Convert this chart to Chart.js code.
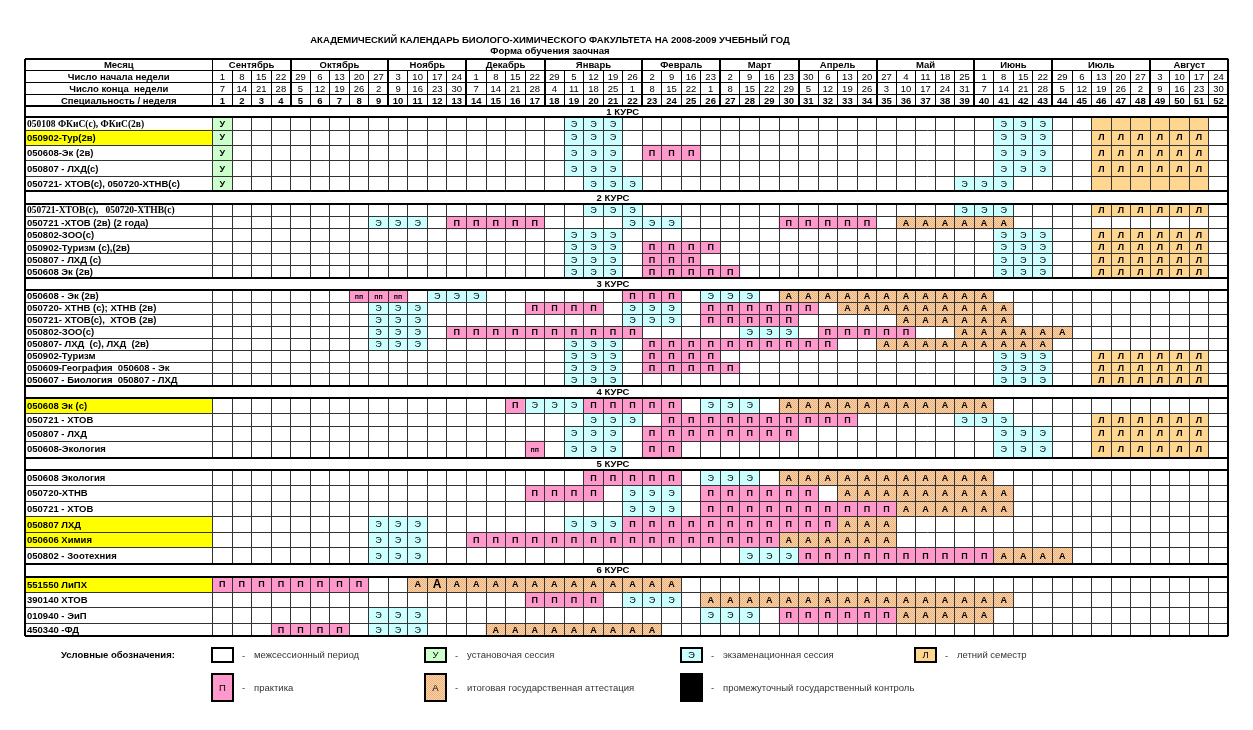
<!DOCTYPE html>
<html lang="ru">
<head>
    <meta charset="UTF-8">
    <title>Академический календарь 2008-2009</title>
    <script src="https://cdn.jsdelivr.net/npm/chart.js"></script>
    <style>
        body { margin: 0; background: #fff; }
    </style>
</head>
<body>
    <canvas id="calendar" width="1253" height="730"></canvas>

    <script>
        const titleText = 'АКАДЕМИЧЕСКИЙ КАЛЕНДАРЬ БИОЛОГО-ХИМИЧЕСКОГО ФАКУЛЬТЕТА НА 2008-2009 УЧЕБНЫЙ ГОД';
        const subtitleText = 'Форма обучения заочная';

        // шапка таблицы
        const headerLabels = ['Месяц', 'Число начала недели', 'Число конца  недели', 'Специальность / неделя'];
        const months = ['Сентябрь', 'Октябрь', 'Ноябрь', 'Декабрь', 'Январь', 'Февраль', 'Март', 'Апрель', 'Май', 'Июнь', 'Июль', 'Август'];
        const monthWeeks = [4, 5, 4, 4, 5, 4, 4, 4, 5, 4, 5, 4];
        const weekStart = [1, 8, 15, 22, 29, 6, 13, 20, 27, 3, 10, 17, 24, 1, 8, 15, 22, 29, 5, 12, 19, 26, 2, 9, 16, 23, 2, 9, 16, 23, 30, 6, 13, 20, 27, 4, 11, 18, 25, 1, 8, 15, 22, 29, 6, 13, 20, 27, 3, 10, 17, 24];
        const weekEnd = [7, 14, 21, 28, 5, 12, 19, 26, 2, 9, 16, 23, 30, 7, 14, 21, 28, 4, 11, 18, 25, 1, 8, 15, 22, 1, 8, 15, 22, 29, 5, 12, 19, 26, 3, 10, 17, 24, 31, 7, 14, 21, 28, 5, 12, 19, 26, 2, 9, 16, 23, 30];
        const weekNumbers = Array.from({ length: 52 }, (_, i) => i + 1);

        const courses = ['1 КУРС', '2 КУРС', '3 КУРС', '4 КУРС', '5 КУРС', '6 КУРС'];

        // код:недели  (У - установочная, Э - экзамены, П - практика, пп, А - аттестация, Л - летний семестр, л - без буквы)
        const course1Labels = ['050108 ФКиС(с), ФКиС(2в)', '050902-Тур(2в)', '050608-Эк (2в)', '050807 - ЛХД(с)', '050721- ХТОВ(с), 050720-ХТНВ(с)'];
        const course1Weeks = [
            'У:1 Э:19-21 Э:41-43 л:46-51',
            'У:1 Э:19-21 Э:41-43 Л:46-51',
            'У:1 Э:19-21 П:23-25 Э:41-43 Л:46-51',
            'У:1 Э:19-21 Э:41-43 Л:46-51',
            'У:1 Э:20-22 Э:39-41 л:46-51'
        ];
        const course2Labels = ['050721-ХТОВ(с),   050720-ХТНВ(с)', '050721 -ХТОВ (2в) (2 года)', '050802-ЗОО(с)', '050902-Туризм (с),(2в)', '050807 - ЛХД (с)', '050608 Эк (2в)'];
        const course2Weeks = [
            'Э:20-22 Э:39-41 Л:46-51',
            'Э:9-11 П:13-17 Э:22-24 П:30-34 А:36-41',
            'Э:19-21 Э:41-43 Л:46-51',
            'Э:19-21 П:23-26 Э:41-43 Л:46-51',
            'Э:19-21 П:23-25 Э:41-43 Л:46-51',
            'Э:19-21 П:23-27 Э:41-43 Л:46-51'
        ];
        const course3Labels = ['050608 - Эк (2в)', '050720- ХТНВ (с); ХТНВ (2в)', '050721- ХТОВ(с),  ХТОВ (2в)', '050802-ЗОО(с)', '050807- ЛХД  (с), ЛХД  (2в)', '050902-Туризм', '050609-География  050608 - Эк', '050607 - Биология  050807 - ЛХД'];
        const course3Weeks = [
            'пп:8-10 Э:12-14 П:22-24 Э:26-28 А:30-40',
            'Э:9-11 П:17-20 Э:22-24 П:26-31 А:33-41',
            'Э:9-11 Э:22-24 П:26-30 А:36-41',
            'Э:9-11 П:13-22 Э:28-30 П:32-36 А:39-44',
            'Э:9-11 Э:19-21 П:23-32 А:35-43',
            'Э:19-21 П:23-26 Э:41-43 Л:46-51',
            'Э:19-21 П:23-27 Э:41-43 Л:46-51',
            'Э:19-21 Э:41-43 Л:46-51'
        ];
        const course4Labels = ['050608 Эк (с)', '050721 - ХТОВ', '050807 - ЛХД', '050608-Экология'];
        const course4Weeks = [
            'П:16 Э:17-19 П:20-24 Э:26-28 А:30-40',
            'Э:20-22 П:24-33 Э:39-41 Л:46-51',
            'Э:19-21 П:23-30 Э:41-43 Л:46-51',
            'пп:17 Э:19-21 П:23-24 Э:41-43 Л:46-51'
        ];
        const course5Labels = ['050608 Экология', '050720-ХТНВ', '050721 - ХТОВ', '050807 ЛХД', '050606 Химия', '050802 - Зоотехния'];
        const course5Weeks = [
            'П:20-24 Э:26-28 А:30-40',
            'П:17-20 Э:22-24 П:26-31 А:33-41',
            'Э:22-24 П:26-35 А:36-41',
            'Э:9-11 Э:19-21 П:22-32 А:33-35',
            'Э:9-11 П:14-29 А:30-35',
            'Э:9-11 Э:28-30 П:31-40 А:41-44'
        ];
        const course6Labels = ['551550 ЛиПХ', '390140 ХТОВ', '010940 - ЭиП', '450340 -ФД'];
        const course6Weeks = [
            'П:1-8 А:11 А!:12 А:13-24',
            'П:17-20 Э:22-24 А:26-41',
            'Э:9-11 Э:26-28 П:30-35 А:36-40',
            'П:4-7 Э:9-11 А:15-23'
        ];

        const highlightedLabels = ['050902-Тур(2в)', '050608 Эк (с)', '050807 ЛХД', '050606 Химия', '551550 ЛиПХ'];
        const serifLabels = ['050108 ФКиС(с), ФКиС(2в)', '050721-ХТОВ(с),   050720-ХТНВ(с)'];

        const legendCodes = ['', 'У', 'Э', 'Л', 'П', 'А', ''];
        const legendTexts = ['межсессионный период', 'установочая сессия', 'экзаменационная сессия', 'летний семестр', 'практика', 'итоговая государственная аттестация', 'промежуточный государственный контроль'];

        const courseLabels = [course1Labels, course2Labels, course3Labels, course4Labels, course5Labels, course6Labels];
        const courseWeeks = [course1Weeks, course2Weeks, course3Weeks, course4Weeks, course5Weeks, course6Weeks];

        // высоты строк (оформление)
        const headerHeights = [11.8, 12, 12, 11.5];
        const bandHeights = [11, 13.6, 12.3, 11.7, 12.3, 13.2];
        const rowHeights = [
            [12.7, 15, 15.7, 16, 14],
            [12.4, 12.3, 12.3, 12.4, 12, 12],
            [12.3, 12, 12, 12, 12, 12, 11, 12.7],
            [15.6, 12.7, 15, 16.7],
            [15.7, 15.3, 15.7, 15.6, 15.4, 15.8],
            [15.6, 15.4, 15.6, 12.7]
        ];

        const SANS = "'Liberation Sans', Arial, sans-serif";
        const SERIF = "'Liberation Serif', 'Times New Roman', serif";

        function parseRuns(str) {
            return str.split(' ').map(tok => {
                const [code, span] = tok.split(':');
                const [a, b] = span.split('-').map(Number);
                return { code, from: a, to: b || a };
            });
        }

        // раскладка строк
        let cursor = 0;
        const headerBounds = [0];
        headerHeights.forEach(h => headerBounds.push(cursor += h));
        const bands = [];
        const rows = [];
        courses.forEach((name, c) => {
            const top = cursor;
            cursor += bandHeights[c];
            bands.push({ name, top, bottom: cursor });
            courseLabels[c].forEach((label, r) => {
                const rTop = cursor;
                cursor += rowHeights[c][r];
                rows.push({ label, course: c, top: rTop, bottom: cursor, runs: parseRuns(courseWeeks[c][r]) });
            });
        });
        const tableBottom = cursor;
        const labelSpan = 9.6; // ширина колонки названий в неделях

        const attestPattern = (() => {
            const c = document.createElement('canvas');
            c.width = 2; c.height = 2;
            const g = c.getContext('2d');
            g.fillStyle = '#fdd39e'; g.fillRect(0, 0, 2, 2);
            g.fillStyle = '#eab087'; g.fillRect(0, 0, 1, 1); g.fillRect(1, 1, 1, 1);
            return g.createPattern(c, 'repeat');
        })();

        const groups = [
            { codes: ['У'], color: '#ccffcc' },
            { codes: ['Э'], color: '#ccffff' },
            { codes: ['П', 'пп'], color: '#ff99cc' },
            { codes: ['А', 'А!'], color: attestPattern },
            { codes: ['Л', 'л'], color: '#ffd690' }
        ];

        const datasets = [{
            label: 'highlight',
            data: rows.filter(r => highlightedLabels.includes(r.label)).map(r => ({ x: -labelSpan / 2, y: [r.top, r.bottom] })),
            backgroundColor: '#ffff00',
            grouped: true,
            barThickness: 187.5,
            borderWidth: 0
        }];
        groups.forEach(g => {
            const data = [];
            rows.forEach(r => r.runs.forEach(run => {
                if (!g.codes.includes(run.code)) return;
                for (let w = run.from; w <= run.to; w++) data.push({ x: w - 0.5, y: [r.top, r.bottom], code: run.code });
            }));
            datasets.push({ label: g.codes[0], data, backgroundColor: g.color, grouped: false, categoryPercentage: 1, barPercentage: 1, borderWidth: 0 });
        });

        const crisp = (v, w) => (Math.round(w) % 2 === 1) ? Math.floor(v) + 0.5 : Math.round(v);

        const tablePlugin = {
            id: 'calendarTable',
            afterDatasetsDraw(chart) {
                const { ctx, chartArea: area, scales: { x, y } } = chart;
                const X = v => x.getPixelForValue(v);
                const Y = v => y.getPixelForValue(v);
                const L = area.left, R = area.right;
                const hline = (x0, x1, yy, w, col) => {
                    ctx.beginPath(); ctx.lineWidth = w; ctx.strokeStyle = col || '#000';
                    const c = crisp(yy, w); ctx.moveTo(x0, c); ctx.lineTo(x1, c); ctx.stroke();
                };
                const vline = (xx, y0, y1, w, col) => {
                    ctx.beginPath(); ctx.lineWidth = w; ctx.strokeStyle = col || '#000';
                    const c = crisp(xx, w); ctx.moveTo(c, y0); ctx.lineTo(c, y1); ctx.stroke();
                };

                ctx.save();
                ctx.textBaseline = 'middle';
                ctx.fillStyle = '#000';

                // буквы в ячейках
                chart.data.datasets.forEach((ds, i) => {
                    chart.getDatasetMeta(i).data.forEach((bar, j) => {
                        const code = ds.data[j].code;
                        if (!code || code === 'л') return;
                        let txt = code, font = 'bold 9px ' + SANS;
                        if (code === 'пп') font = 'bold 7px ' + SANS;
                        if (code === 'Э') font = '9px ' + SANS;
                        if (code === 'А!') { txt = 'А'; font = 'bold 12px ' + SANS; }
                        ctx.font = font;
                        ctx.textAlign = 'center';
                        ctx.fillText(txt, bar.x, (bar.y + bar.base) / 2 + 0.5);
                    });
                });

                // заголовок
                ctx.textAlign = 'center';
                ctx.font = 'bold 9.5px ' + SANS;
                ctx.fillText(titleText, 550, 40);
                ctx.fillText(subtitleText, 550, 51.5);

                // шапка
                const hb = headerBounds.map(Y);
                const mid = i => (hb[i] + hb[i + 1]) / 2 + 0.5;
                headerLabels.forEach((t, i) => ctx.fillText(t, X(-labelSpan / 2), mid(i)));
                let acc = 0;
                const monthEdges = [];
                months.forEach((m, i) => {
                    ctx.fillText(m, X(acc + monthWeeks[i] / 2), mid(0));
                    acc += monthWeeks[i];
                    monthEdges.push(acc);
                });
                ctx.font = '9.5px ' + SANS;
                weekStart.forEach((d, i) => ctx.fillText(d, X(i + 0.5), mid(1)));
                weekEnd.forEach((d, i) => ctx.fillText(d, X(i + 0.5), mid(2)));
                ctx.font = 'bold 9.5px ' + SANS;
                weekNumbers.forEach((n, i) => ctx.fillText(n, X(i + 0.5), mid(3)));

                // курсы
                bands.forEach((b, i) => ctx.fillText(b.name, X(i === 0 ? 21 : 20.5), (Y(b.top) + Y(b.bottom)) / 2 + 0.5));

                // названия специальностей
                ctx.textAlign = 'left';
                rows.forEach(r => {
                    ctx.font = 'bold 9.5px ' + (serifLabels.includes(r.label) ? SERIF : SANS);
                    ctx.fillText(r.label, L + 2, (Y(r.top) + Y(r.bottom)) / 2 + 0.5);
                });

                // сетка шапки
                hb.forEach((yy, i) => hline(L, R, yy, i === 0 || i === 4 ? 2 : 1));
                vline(X(0), hb[0], hb[4], 1);
                monthEdges.slice(0, -1).forEach(e => vline(X(e), hb[0], hb[4], 2));
                for (let w = 1; w < 52; w++) {
                    if (!monthEdges.includes(w)) vline(X(w), hb[1], hb[4], 1);
                }

                // сетка тела
                courses.forEach((_, c) => {
                    const cr = rows.filter(r => r.course === c);
                    const top = Y(cr[0].top), bottom = Y(cr[cr.length - 1].bottom);
                    for (let w = 0; w < 52; w++) vline(X(w), top, bottom, 1, '#333');
                    cr.forEach((r, i) => { if (i > 0) hline(L, R, Y(r.top), 1, '#333'); });
                });
                bands.forEach(b => { hline(L, R, Y(b.top), 2); hline(L, R, Y(b.bottom), 2); });

                // рамка
                vline(L, hb[0], Y(tableBottom), 2);
                vline(R, hb[0], Y(tableBottom), 2);
                hline(L, R, Y(tableBottom), 2);

                // условные обозначения
                ctx.textAlign = 'left';
                ctx.font = 'bold 9.5px ' + SANS;
                ctx.fillStyle = '#000';
                ctx.fillText('Условные обозначения:', 61, 655.5);
                const fills = ['#ffffff', '#ccffcc', '#ccffff', '#ffd690', '#ff99cc', attestPattern, '#000000'];
                const slots = [[212, 648, 14], [425, 648, 14], [681, 648, 14], [915, 648, 14], [212, 674, 27], [425, 674, 27], [681, 674, 27]];
                legendTexts.forEach((t, i) => {
                    const [bx, by, bh] = slots[i];
                    ctx.fillStyle = fills[i];
                    ctx.fillRect(bx, by, 21, bh);
                    ctx.lineWidth = 2; ctx.strokeStyle = '#000';
                    ctx.strokeRect(bx, by, 21, bh);
                    ctx.fillStyle = '#000';
                    ctx.font = '9.5px ' + SANS;
                    ctx.textAlign = 'center';
                    if (legendCodes[i]) ctx.fillText(legendCodes[i], bx + 10.5, by + bh / 2 + 0.5);
                    ctx.textAlign = 'left';
                    ctx.fillStyle = '#333';
                    ctx.fillText('-', bx + 30, by + bh / 2 + 1);
                    ctx.fillText(t, bx + 42, by + bh / 2 + 0.5);
                });
                ctx.restore();
            }
        };

        new Chart(document.getElementById('calendar'), {
            type: 'bar',
            data: { datasets },
            options: {
                responsive: false,
                animation: false,
                events: [],
                layout: { padding: { left: 25, right: 24.7, top: 59, bottom: 94 } },
                plugins: { legend: { display: false }, tooltip: { enabled: false } },
                scales: {
                    x: {
                        type: 'linear', min: -labelSpan, max: 52, offset: false, display: false,
                        afterBuildTicks: s => { s.ticks = [0].concat(weekNumbers).map(v => ({ value: v })); }
                    },
                    y: { type: 'linear', min: 0, max: tableBottom, reverse: true, display: false }
                }
            },
            plugins: [tablePlugin]
        });
    </script>
</body>
</html>
